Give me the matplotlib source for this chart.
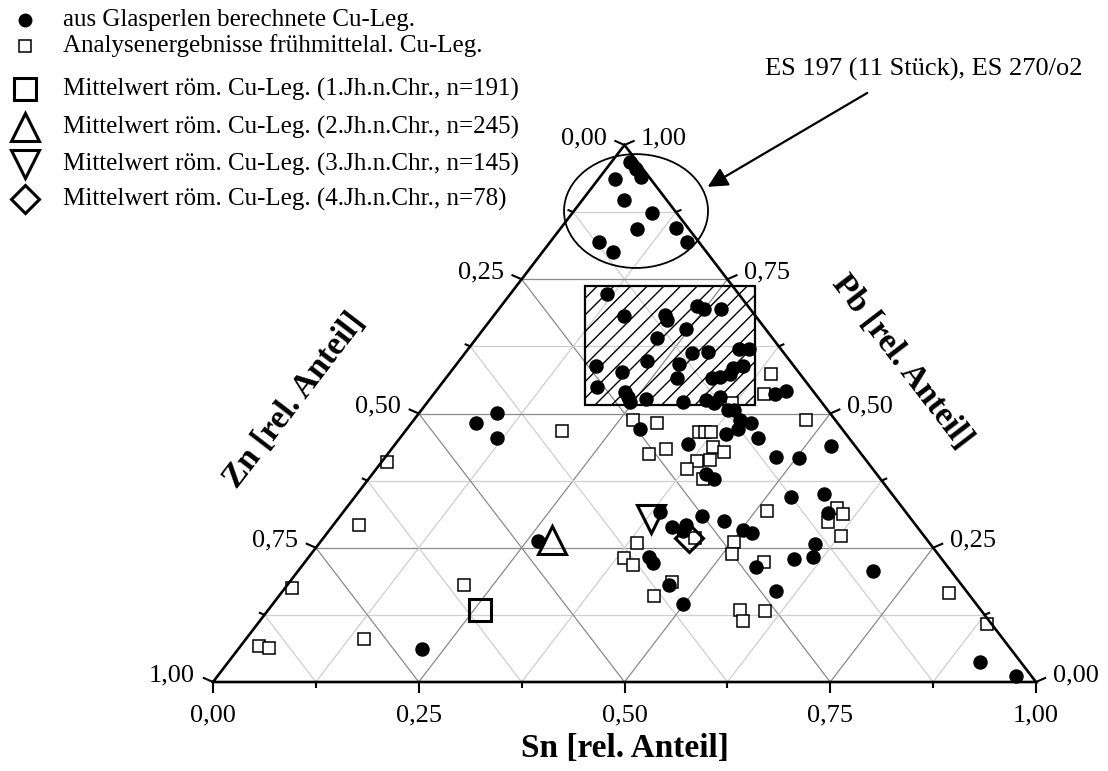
import numpy as np
import matplotlib
matplotlib.use("Agg")
import matplotlib.pyplot as plt
from matplotlib.patches import Ellipse, Rectangle

plt.rcParams['font.family'] = ['Liberation Serif', 'DejaVu Serif']

# Ternary compositions, stored as (Sn, Pb) fractions; Zn = 1 - Sn - Pb
glass_sn = [0.023, 0.036, 0.050, 0.020, 0.050, 0.097, 0.093, 0.140, 0.167, 0.059,
            0.085, 0.117, 0.158, 0.208, 0.215, 0.238, 0.249, 0.270, 0.246, 0.219,
            0.228, 0.276, 0.294, 0.329, 0.341, 0.171, 0.209, 0.270, 0.281, 0.323,
            0.332, 0.341, 0.339, 0.350, 0.192, 0.231, 0.239, 0.246, 0.263, 0.310,
            0.337, 0.349, 0.350, 0.415, 0.425, 0.372, 0.379, 0.396, 0.413, 0.403,
            0.392, 0.435, 0.283, 0.356, 0.475, 0.405, 0.420, 0.385, 0.413, 0.429,
            0.440, 0.471, 0.502, 0.516, 0.264, 0.413, 0.424, 0.464, 0.499, 0.553,
            0.600, 0.532, 0.503, 0.530, 0.567, 0.590, 0.603, 0.613, 0.591, 0.699,
            0.914, 0.970, 0.079, 0.095, 0.118, 0.224, 0.431]
glass_pb = [0.968, 0.955, 0.940, 0.937, 0.898, 0.873, 0.844, 0.845, 0.819, 0.819,
            0.801, 0.723, 0.682, 0.683, 0.674, 0.700, 0.695, 0.695, 0.657, 0.641,
            0.598, 0.613, 0.615, 0.620, 0.620, 0.588, 0.577, 0.592, 0.566, 0.566,
            0.568, 0.574, 0.585, 0.588, 0.549, 0.540, 0.531, 0.521, 0.527, 0.521,
            0.525, 0.520, 0.531, 0.536, 0.542, 0.507, 0.507, 0.488, 0.482, 0.471,
            0.462, 0.454, 0.471, 0.443, 0.419, 0.387, 0.378, 0.317, 0.289, 0.292,
            0.309, 0.300, 0.283, 0.277, 0.263, 0.233, 0.222, 0.181, 0.145, 0.214,
            0.169, 0.439, 0.417, 0.345, 0.350, 0.315, 0.257, 0.233, 0.229, 0.207,
            0.037, 0.011, 0.482, 0.501, 0.454, 0.061, 0.281]

early_sn = [0.391, 0.402, 0.371, 0.266, 0.298, 0.477, 0.358, 0.365, 0.372, 0.190,
            0.333, 0.317, 0.389, 0.407, 0.382, 0.397, 0.378, 0.406, 0.514, 0.386,
            0.384, 0.401, 0.465, 0.456, 0.452, 0.503, 0.512, 0.558, 0.573, 0.587,
            0.605, 0.596, 0.609, 0.598, 0.627, 0.811, 0.886, 0.006, 0.031, 0.009,
            0.023, 0.036, 0.143, 0.214]
early_pb = [0.574, 0.536, 0.520, 0.488, 0.482, 0.488, 0.466, 0.466, 0.466, 0.467,
            0.434, 0.425, 0.438, 0.428, 0.412, 0.413, 0.397, 0.378, 0.318, 0.259,
            0.231, 0.218, 0.186, 0.160, 0.268, 0.261, 0.238, 0.223, 0.134, 0.114,
            0.132, 0.324, 0.313, 0.298, 0.272, 0.166, 0.108, 0.410, 0.292, 0.175,
            0.067, 0.063, 0.080, 0.181]

# Roman means per century
roman_labels = ['Mittelwert röm. Cu-Leg. (1.Jh.n.Chr., n=191)',
                'Mittelwert röm. Cu-Leg. (2.Jh.n.Chr., n=245)',
                'Mittelwert röm. Cu-Leg. (3.Jh.n.Chr., n=145)',
                'Mittelwert röm. Cu-Leg. (4.Jh.n.Chr., n=78)']
roman_sn = [0.257, 0.280, 0.380, 0.444]
roman_pb = [0.134, 0.264, 0.304, 0.268]
roman_markers = ['s', '^', 'v', 'D']
roman_sizes = [15.5, 20, 20, 14]

tick_values = [0.0, 0.25, 0.5, 0.75, 1.0]


def tern(sn, pb):
    sn = np.asarray(sn, dtype=float)
    pb = np.asarray(pb, dtype=float)
    return sn + pb / 2, pb


def fmt(v):
    return f"{v:.2f}".replace('.', ',')


W, H = 1108, 771
fig = plt.figure(figsize=(W / 100, H / 100), dpi=100)
ax_l, ax_b, ax_w, ax_h = 213, 682, 823, 537   # triangle base/height in pixels
ax = fig.add_axes([ax_l / W, (H - ax_b) / H, ax_w / W, ax_h / H])
ax.set_xlim(0, 1)
ax.set_ylim(0, 1)
ax.axis('off')
PX, PY = 1 / ax_w, 1 / ax_h

# grid lines every 1/8, darker at the quarters
for k in range(1, 8):
    v = k / 8
    col = '#8a8a8a' if k % 2 == 0 else '#cfcfcf'
    for sn, pb in (([0, 1 - v], [v, v]), ([v, v], [0, 1 - v]), ([1 - v, 0], [0, 1 - v])):
        ax.plot(*tern(sn, pb), color=col, lw=0.9, zorder=1, clip_on=False)

# triangle frame
ax.plot(*tern([0, 1, 0, 0], [0, 0, 1, 0]), color='black', lw=1.9, zorder=6,
        solid_joinstyle='miter', clip_on=False)

# ticks: perpendicular to the edges in the unsquashed triangle
dirs = {'bottom': (0.0, -1.0), 'left': (-0.917, 0.399), 'right': (0.917, 0.399)}
for k in range(9):
    v = k / 8
    major = k % 2 == 0
    L = 11 if major else 6
    pts = {'bottom': tern(v, 0), 'left': tern(0, 1 - v), 'right': tern(1 - v, v)}
    for side, (x, y) in pts.items():
        dx, dy = dirs[side]
        ax.plot([x, x + dx * L * PX], [y, y + dy * L * PY], color='black', lw=1.5,
                zorder=6, clip_on=False, solid_capstyle='butt')

for v in tick_values:
    ax.annotate(fmt(v), tern(v, 0), xytext=(0, -16), textcoords='offset points',
                ha='center', va='top', fontsize=19, annotation_clip=False)
    ax.annotate(fmt(v), tern(0, 1 - v), xytext=(-13, 5), textcoords='offset points',
                ha='right', va='center', fontsize=19, annotation_clip=False)
    ax.annotate(fmt(v), tern(1 - v, v), xytext=(12, 5), textcoords='offset points',
                ha='left', va='center', fontsize=19, annotation_clip=False)

ax.text(0.5, -0.123, 'Sn [rel. Anteil]', ha='center', va='center', fontsize=24,
        fontweight='bold')
ax.text(0.0996, 0.525, 'Zn [rel. Anteil]', ha='center', va='center', fontsize=24,
        fontweight='bold', rotation=52.5, rotation_mode='anchor')
ax.text(0.837, 0.596, 'Pb [rel. Anteil]', ha='center', va='center', fontsize=24,
        fontweight='bold', rotation=-52.5, rotation_mode='anchor')

# hatched field and the ES 197 cluster
ax.add_patch(Rectangle((0.452, 0.516), 0.207, 0.221, facecolor='none',
                       edgecolor='black', hatch='//', lw=1.6, zorder=2))
ax.add_patch(Ellipse((0.514, 0.877), 0.175, 0.212, facecolor='none',
                     edgecolor='black', lw=1.3, zorder=5, clip_on=False))
ax.annotate('', xy=(0.601, 0.922), xytext=(0.795, 1.097),
            arrowprops=dict(arrowstyle='-|>', color='black', lw=1.6,
                            mutation_scale=30, shrinkA=0, shrinkB=0),
            annotation_clip=False)
ax.text(0.671, 1.140, 'ES 197 (11 Stück), ES 270/o2', ha='left', va='center',
        fontsize=19)

# data points
ax.plot(*tern(early_sn, early_pb), 's', ms=8.6, mfc='white', mec='black', mew=1.1,
        ls='none', zorder=3, clip_on=False)
ax.plot(*tern(glass_sn, glass_pb), 'o', ms=9.4, color='black', ls='none',
        zorder=4, clip_on=False)
for sn, pb, m, s in zip(roman_sn, roman_pb, roman_markers, roman_sizes):
    ax.plot(*tern(sn, pb), m, ms=s, mfc='none', mec='black', mew=2.2, ls='none',
            zorder=7, clip_on=False)

# legend, laid out in pixels from the top-left corner
leg_rows = [20, 46, 89, 127, 164, 199]
leg_entries = ([('o', 10.0, dict(mfc='black', mec='black', mew=0)),
                ('s', 8.6, dict(mfc='white', mec='black', mew=1.1))] +
               [(m, s, dict(mfc='none', mec='black', mew=2.2))
                for m, s in zip(roman_markers, roman_sizes)])
leg_texts = ['aus Glasperlen berechnete Cu-Leg.',
             'Analysenergebnisse frühmittelal. Cu-Leg.'] + roman_labels
for yrow, (m, s, kw), label in zip(leg_rows, leg_entries, leg_texts):
    fig.add_artist(plt.Line2D([25 / W], [1 - yrow / H], marker=m, ms=s, ls='none',
                              transform=fig.transFigure, **kw))
    fig.text(63 / W, 1 - yrow / H, label, ha='left', va='center', fontsize=18)

fig.savefig('out.png', dpi=100)
